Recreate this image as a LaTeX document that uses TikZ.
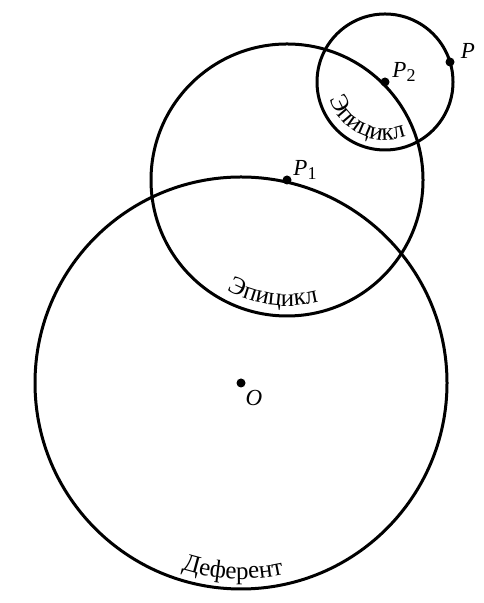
\documentclass[tikz,border=0pt]{standalone}
\usepackage{fontspec}
\setmainfont{Liberation Serif}
\usetikzlibrary{decorations.text}
\tikzset{
  orbit/.style={line width=1.5pt},
  dot/.style={fill},
  pointlabel/.style={font=\fontsize{11.5}{13}\selectfont\itshape, inner sep=0pt},
  arctext/.style={decorate, decoration={text along path, text align=center,
    text={|\fontsize{12.5}{14}\selectfont|#1}}}
}
\newcommand{\subidx}[1]{\raisebox{-0.45ex}{\upshape\fontsize{9}{10}\selectfont #1}}
\begin{document}
\begin{tikzpicture}[x=0.5pt,y=0.5pt]
\useasboundingbox (0,0) rectangle (483,603);
% centres
\coordinate (O) at (241,220);
\coordinate (P1) at (287,423);
\coordinate (P2) at (385,521);
\coordinate (P) at (450,541);
% deferent and epicycles
\draw[orbit](O) circle[radius=206];
\draw[orbit](P1) circle[radius=136];
\draw[orbit](P2) circle[radius=68];
\fill[dot](O) circle[radius=4.5];
\fill[dot](P1) circle[radius=4.5];
\fill[dot](P2) circle[radius=4.5];
\fill[dot](P) circle[radius=4.5];
\node[pointlabel] (lO) at (254,205) {O};
\node[pointlabel] (lP1) at (305,433) {P\subidx{1}};
\node[pointlabel] (lP2) at (404,531) {P\subidx{2}};
\node[pointlabel] (lP) at (468,552) {P};
% curved names
\path[arctext={Эпицикл}]([shift={(198:58)}]P2) arc[start angle=198, end angle=291, radius=58];
\path[arctext={Эпицикл}]([shift={(242:126)}]P1) arc[start angle=242, end angle=284, radius=126];
\path[arctext={Деферент}]([shift={(252:196)}]O) arc[start angle=252, end angle=283, radius=196];
\end{tikzpicture}
\end{document}
